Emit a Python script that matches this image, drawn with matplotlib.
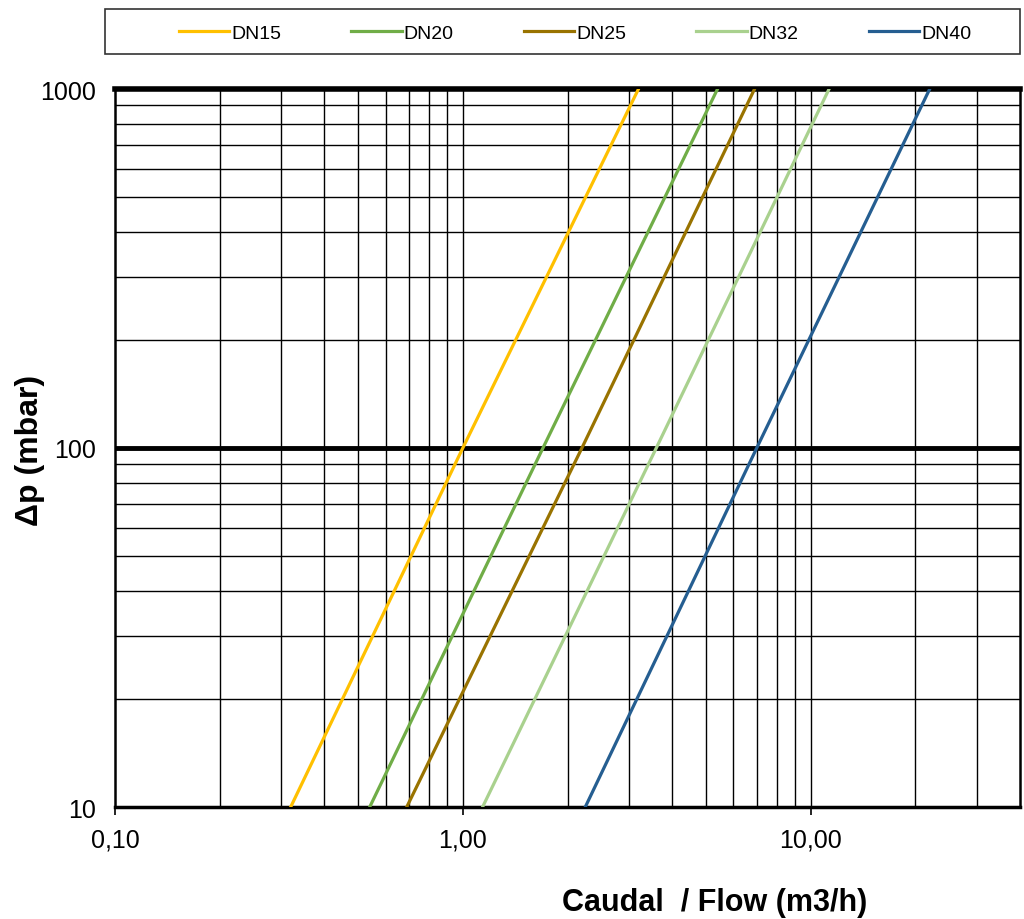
import matplotlib
matplotlib.use("Agg")
import matplotlib.pyplot as plt
from matplotlib.patches import Rectangle
from matplotlib.ticker import FixedLocator, NullFormatter

plt.rcParams['font.family'] = ['Liberation Sans', 'DejaVu Sans']

## data (flow in m3/h at 10, 100, 1000 mbar)
dp = [10, 100, 1000]
dn15 = [0.32, 1.0, 3.2]
dn20 = [0.54, 1.7, 5.4]
dn25 = [0.69, 2.2, 6.9]
dn32 = [1.14, 3.6, 11.3]
dn40 = [2.25, 7.0, 22.0]

names = ['DN15', 'DN20', 'DN25', 'DN32', 'DN40']
series = [dn15, dn20, dn25, dn32, dn40]
colors = ['#FFC000', '#70AD47', '#997300', '#A9D18E', '#255E91']

x_major = [0.1, 1, 10]
x_labels = ['0,10', '1,00', '10,00']
y_major = [10, 100, 1000]

fig = plt.figure(figsize=(10.24, 9.2), dpi=100)
ax = fig.add_axes([115/1024, 1-808/920, (1020-115)/1024, (808-90)/920])

ax.set_xscale('log')
ax.set_yscale('log')
ax.set_xlim(0.1, 40)
ax.set_ylim(10, 1000)

# grid
minor_x = [m * d for d in [0.1, 1, 10] for m in range(2, 10) if m * d < 40]
for v in minor_x + [1, 10]:
    ax.axvline(v, color='black', lw=1.0, zorder=1)
minor_y = [m * d for d in [10, 100] for m in range(2, 10)]
for v in minor_y:
    ax.axhline(v, color='black', lw=1.0, zorder=1)
ax.axhline(100, color='black', lw=3.5, zorder=1)

for name, s, c in zip(names, series, colors):
    ax.plot(s, dp, color=c, lw=2.3, label=name, zorder=3)

for side in ['left', 'right']:
    ax.spines[side].set_linewidth(1.8)
ax.spines['bottom'].set_linewidth(2.5)
ax.spines['top'].set_linewidth(4)

ax.xaxis.set_major_locator(FixedLocator(x_major))
ax.set_xticklabels(x_labels)
ax.xaxis.set_minor_formatter(NullFormatter())
ax.xaxis.set_minor_locator(FixedLocator([]))
ax.yaxis.set_major_locator(FixedLocator(y_major))
ax.set_yticklabels([str(v) for v in y_major])
ax.yaxis.set_minor_locator(FixedLocator([]))
ax.yaxis.set_minor_formatter(NullFormatter())
ax.tick_params(axis='x', which='major', length=6, width=1.2, pad=9, labelsize=18, colors='black')
ax.tick_params(axis='y', which='major', length=0, pad=14, labelsize=18)

fig.text(715/1024, 1-903/920, 'Caudal  / Flow (m3/h)', ha='center', va='center',
         fontsize=22, fontweight='bold')
fig.text(30/1024, 1-450/920, 'Δp (mbar)', ha='center', va='center', rotation=90,
         fontsize=23, fontweight='bold')

# legend box on top
fig.patches.append(Rectangle((105/1024, 1-55/920), (1020-105)/1024, 45/920,
                             transform=fig.transFigure, fill=False, ec='#333333', lw=1.2))
handles, labels = ax.get_legend_handles_labels()
fig.legend(handles, labels, loc='center', bbox_to_anchor=(575/1024, 1-34/920), ncol=5,
           frameon=False, fontsize=14, handlelength=2.6, handletextpad=0.1,
           columnspacing=3.6)

fig.savefig('out.png', dpi=100)
